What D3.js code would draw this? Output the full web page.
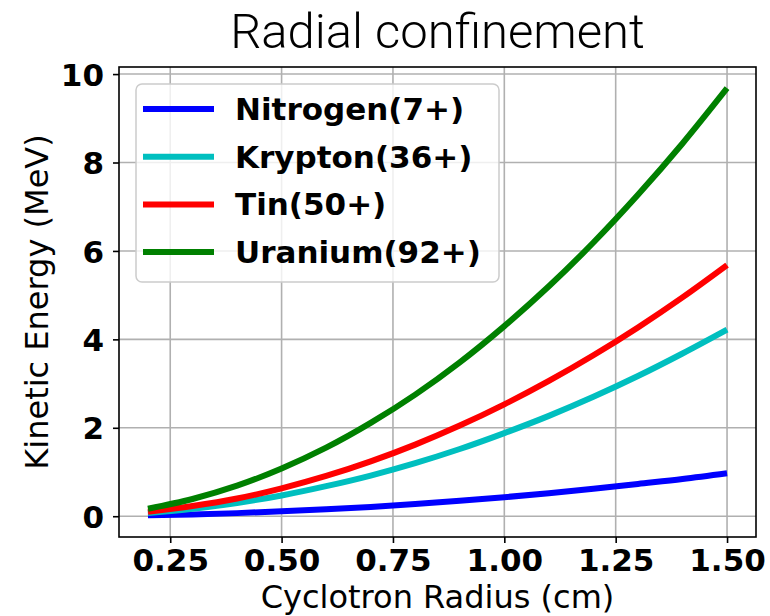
<!DOCTYPE html>
<html>
<head>
<meta charset="utf-8">
<script src="https://cdn.jsdelivr.net/npm/d3@7"></script>
<style>
  html, body { margin: 0; padding: 0; background: #fff; }
  svg { display: block; }
</style>
</head>
<body>
<svg width="770" height="616"></svg>
<script>
// cyclotron radius (cm), sampled along the curves
const radius = [0.2, 0.3, 0.4, 0.5, 0.6, 0.7, 0.8, 0.9, 1.0, 1.1, 1.2, 1.3, 1.4, 1.5];

// kinetic energy (MeV)
const nitrogen = [0.02, 0.04, 0.07, 0.11, 0.155, 0.21, 0.275, 0.35, 0.43, 0.52, 0.62, 0.73, 0.84, 0.97];
const krypton  = [0.075, 0.17, 0.30, 0.47, 0.68, 0.92, 1.20, 1.52, 1.88, 2.27, 2.70, 3.17, 3.68, 4.22];
const tin      = [0.10, 0.23, 0.40, 0.63, 0.91, 1.24, 1.62, 2.05, 2.53, 3.06, 3.64, 4.27, 4.95, 5.68];
const uranium  = [0.17, 0.39, 0.69, 1.08, 1.55, 2.11, 2.75, 3.48, 4.30, 5.20, 6.19, 7.27, 8.43, 9.68];

const seriesNames  = ["Nitrogen(7+)", "Krypton(36+)", "Tin(50+)", "Uranium(92+)"];
const seriesColors = ["#0000ff", "#00bfbf", "#ff0000", "#008000"];
const seriesValues = [nitrogen, krypton, tin, uranium];

const xTicks = [0.25, 0.50, 0.75, 1.00, 1.25, 1.50];
const yTicks = [0, 2, 4, 6, 8, 10];

const svg = d3.select("svg");
const box = {left: 119, right: 756, top: 67, bottom: 537};

const x = d3.scaleLinear().domain([0.135, 1.565]).range([box.left, box.right]);
const y = d3.scaleLinear().domain([-0.47, 10.16]).range([box.bottom, box.top]);

// grid
const grid = svg.append("g").attr("stroke", "#b0b0b0").attr("stroke-width", 1.6);
grid.selectAll("line.gx").data(xTicks).join("line")
  .attr("x1", d => x(d)).attr("x2", d => x(d))
  .attr("y1", box.top).attr("y2", box.bottom);
grid.selectAll("line.gy").data(yTicks).join("line")
  .attr("y1", d => y(d)).attr("y2", d => y(d))
  .attr("x1", box.left).attr("x2", box.right);

// curves
const line = d3.line()
  .x((d, i) => x(radius[i]))
  .y(d => y(d))
  .curve(d3.curveMonotoneX);

svg.append("g").selectAll("path").data(seriesValues).join("path")
  .attr("fill", "none")
  .attr("stroke", (d, i) => seriesColors[i])
  .attr("stroke-width", 6)
  .attr("d", line);

// axes
const xAxis = svg.append("g")
  .attr("transform", `translate(0,${box.bottom})`)
  .call(d3.axisBottom(x).tickValues(xTicks).tickFormat(d3.format(".2f")).tickSize(6).tickPadding(5));
const yAxis = svg.append("g")
  .attr("transform", `translate(${box.left},0)`)
  .call(d3.axisLeft(y).tickValues(yTicks).tickFormat(d3.format("d")).tickSize(6).tickPadding(9));

[xAxis, yAxis].forEach(ax => {
  ax.select(".domain").remove();
  ax.selectAll(".tick line").attr("stroke", "#000").attr("stroke-width", 1.6);
  ax.selectAll(".tick text")
    .attr("fill", "#000")
    .style("font-family", "DejaVu Sans")
    .style("font-weight", "bold")
    .style("font-size", "31px");
});
xAxis.selectAll(".tick text").attr("dy", "0.73em");
yAxis.selectAll(".tick text").attr("dy", "0.36em");

// frame
svg.append("rect")
  .attr("x", box.left).attr("y", box.top)
  .attr("width", box.right - box.left).attr("height", box.bottom - box.top)
  .attr("fill", "none").attr("stroke", "#000").attr("stroke-width", 1.6);

// legend
const legend = svg.append("g");
legend.append("rect")
  .attr("x", 136).attr("y", 84).attr("width", 363).attr("height", 198)
  .attr("rx", 6).attr("ry", 6)
  .attr("fill", "#fff").attr("fill-opacity", 0.8)
  .attr("stroke", "#cccccc").attr("stroke-width", 1.5);

const rows = legend.selectAll("g.row").data(seriesNames).join("g")
  .attr("transform", (d, i) => `translate(0,${109 + i * 47.7})`);
rows.append("line")
  .attr("x1", 143).attr("x2", 214)
  .attr("stroke", (d, i) => seriesColors[i])
  .attr("stroke-width", 6);
rows.append("text")
  .attr("x", 235).attr("y", 11)
  .style("font-family", "DejaVu Sans")
  .style("font-weight", "bold")
  .style("font-size", "31px")
  .text(d => d);

// labels
svg.append("text")
  .attr("x", (box.left + box.right) / 2).attr("y", 608)
  .attr("text-anchor", "middle")
  .style("font-family", "DejaVu Sans")
  .style("font-size", "32px")
  .text("Cyclotron Radius (cm)");

svg.append("text")
  .attr("transform", `translate(48,${(box.top + box.bottom) / 2}) rotate(-90)`)
  .attr("text-anchor", "middle")
  .style("font-family", "DejaVu Sans")
  .style("font-size", "32px")
  .text("Kinetic Energy (MeV)");

svg.append("text")
  .attr("x", (box.left + box.right) / 2).attr("y", 48)
  .attr("text-anchor", "middle")
  .style("font-family", "Roboto")
  .style("font-weight", 300)
  .style("font-size", "49px")
  .text("Radial confinement");
</script>
</body>
</html>
